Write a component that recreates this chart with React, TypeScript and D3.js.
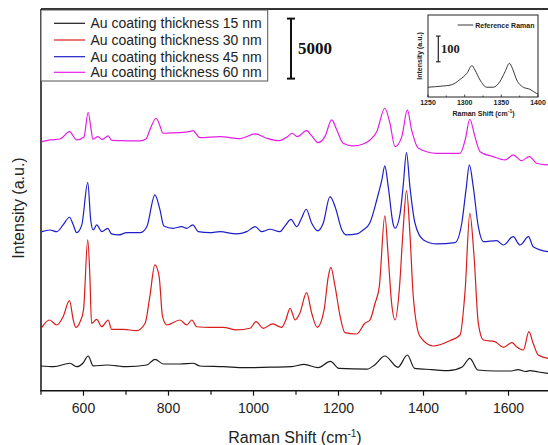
import React from "react";
import * as d3 from "d3";

// ---------- data ----------
const xMajorTicks = [600, 800, 1000, 1200, 1400, 1600];
const xMinorTicks = [700, 900, 1100, 1300, 1500];

const seriesLabels = [
  "Au coating thickness 15 nm",
  "Au coating thickness 30 nm",
  "Au coating thickness 45 nm",
  "Au coating thickness 60 nm",
];
const seriesColors = ["#1a1a1a", "#d91c1c", "#1e1ec8", "#e41fe4"];

// [Raman shift (cm-1), intensity (counts, stacked offsets included)]
const spectrum15nm: [number, number][] = [
  [500, 2060], [530, 2000], [568, 2285], [584, 2000], [599, 2310], [611, 2890], [623, 2060],
  [655, 2140], [702, 2000], [749, 2140], [768, 2615], [788, 2225], [827, 2225], [858, 2285],
  [874, 2060], [930, 2000], [979, 1915], [1040, 1960], [1090, 2000], [1119, 2200], [1152, 1915],
  [1181, 2435], [1201, 1860], [1267, 1800], [1285, 2140], [1309, 2890], [1340, 1950],
  [1362, 2975], [1379, 1865], [1420, 1760], [1458, 1665], [1491, 1975], [1509, 2700],
  [1528, 1725], [1570, 1640], [1607, 1640], [1622, 1760], [1640, 1600], [1650, 1665],
  [1670, 1560], [1693, 1450],
];

const spectrum30nm: [number, number][] = [
  [502, 5280], [520, 5890], [537, 5475], [552, 6165], [567, 7500], [576, 5890], [582, 5280],
  [592, 5750], [600, 6725], [610, 12560], [615, 9500], [619, 5615], [631, 5950], [643, 5330],
  [658, 5890], [666, 5115], [694, 5115], [725, 5000], [745, 5615], [756, 7830], [768, 10475],
  [778, 9500], [786, 6165], [796, 5475], [827, 5890], [843, 5475], [855, 5890], [866, 5330],
  [898, 5280], [929, 5280], [960, 5060], [992, 5200], [1006, 5750], [1023, 5200], [1045, 5560],
  [1066, 5280], [1076, 5890], [1086, 6865], [1098, 5890], [1109, 6450], [1125, 8165],
  [1137, 6450], [1150, 5280], [1166, 6725], [1176, 9500], [1182, 10280], [1192, 8665],
  [1204, 6165], [1215, 4835], [1243, 4725], [1262, 5615], [1274, 5890], [1286, 7285],
  [1296, 8665], [1309, 14560], [1317, 11165], [1325, 7285], [1333, 5890], [1343, 8390],
  [1352, 13390], [1360, 16665], [1368, 13115], [1376, 7830], [1392, 4500], [1423, 3725],
  [1462, 4165], [1486, 4640], [1498, 8390], [1509, 14780], [1519, 11165], [1529, 5615],
  [1541, 4225], [1568, 4085], [1588, 3615], [1608, 4000], [1619, 3665], [1635, 3390],
  [1648, 4915], [1658, 3950], [1670, 2975], [1693, 2700],
];

const spectrum45nm: [number, number][] = [
  [502, 13250], [521, 13390], [537, 13250], [552, 13810], [567, 14450], [576, 13810],
  [584, 13165], [596, 13810], [610, 17330], [617, 14225], [623, 13390], [631, 13810],
  [643, 13250], [657, 13530], [666, 13060], [682, 12975], [702, 13165], [733, 13165],
  [749, 13665], [768, 16310], [780, 15060], [789, 13725], [811, 13530], [831, 13665],
  [843, 13530], [857, 13810], [870, 13250], [898, 13165], [921, 13250], [960, 13060],
  [984, 13250], [1004, 13665], [1019, 13250], [1039, 13450], [1062, 13250], [1076, 13810],
  [1088, 14280], [1102, 13665], [1113, 14365], [1124, 15115], [1137, 13950], [1151, 13310],
  [1164, 13950], [1180, 16165], [1192, 15330], [1208, 13390], [1219, 12975], [1243, 13060],
  [1258, 13390], [1274, 14000], [1290, 15890], [1302, 17560], [1309, 18725], [1317, 17000],
  [1329, 13810], [1333, 13530], [1345, 14780], [1352, 17000], [1360, 19830], [1368, 17000],
  [1380, 13950], [1400, 12560], [1431, 12225], [1474, 12330], [1490, 13950], [1500, 16725],
  [1508, 18810], [1517, 17000], [1529, 13665], [1541, 12415], [1572, 12500], [1588, 12140],
  [1611, 12830], [1627, 12140], [1647, 12830], [1658, 12000], [1693, 11580],
];

const spectrum60nm: [number, number][] = [
  [502, 20750], [521, 20890], [545, 20970], [567, 21580], [584, 20890], [601, 21140],
  [611, 23200], [618, 21725], [622, 20950], [634, 21165], [644, 20930], [658, 21225],
  [667, 20850], [686, 20830], [733, 20810], [747, 20970], [756, 21725], [771, 22700],
  [780, 22060], [787, 21450], [804, 21475], [827, 21500], [851, 21600], [858, 21665],
  [865, 21390], [874, 21080], [921, 21165], [968, 21000], [1004, 21390], [1031, 21030],
  [1058, 20830], [1080, 21165], [1091, 21450], [1103, 21165], [1125, 21665], [1137, 21225],
  [1152, 20665], [1168, 21165], [1184, 22560], [1196, 21725], [1211, 20615], [1235, 20390],
  [1258, 20555], [1274, 20890], [1290, 21580], [1309, 23530], [1321, 22280], [1333, 20330],
  [1349, 21165], [1362, 23390], [1372, 21725], [1388, 20200], [1431, 19780], [1486, 19780],
  [1498, 20890], [1509, 22615], [1521, 21165], [1533, 19915], [1564, 19500], [1592, 19225],
  [1611, 19640], [1631, 19165], [1649, 19500], [1666, 18950], [1693, 18810],
];

const spectra = [spectrum15nm, spectrum30nm, spectrum45nm, spectrum60nm];

const scaleBarValue = 5000;
const scaleBarBase = 26000;

// inset (reference Raman)
const insetTicks = [1250, 1300, 1350, 1400];
const insetMinorTicks = [1275, 1325, 1375];
const referenceRaman: [number, number][] = [
  [1250, 638], [1260, 640], [1271, 643], [1280, 646], [1285, 651], [1290, 660], [1294, 669],
  [1303, 692], [1310, 722], [1314, 705], [1321, 666], [1330, 638], [1339, 638], [1348, 660],
  [1355, 698], [1361, 731], [1365, 712], [1371, 666], [1380, 638], [1389, 630], [1398, 614],
  [1400, 612],
];
const insetBarValue = 100;
const insetBarBase = 737;

// ---------- layout ----------
const W = 548;
const H = 445;
const left = 41;
const right = 548;
const top = 9;
const bottom = 390.7;

const FONT = "'Liberation Sans', Arial, sans-serif";
const SERIF = "'Liberation Serif', 'Times New Roman', serif";

export default function App() {
  const x = d3.scaleLinear().domain([500, 1700]).range([left, left + 1200 * 0.425]);
  const y = d3.scaleLinear().domain([0, 31800]).range([bottom, top]);
  const line = d3
    .line<[number, number]>()
    .x((d) => x(d[0]))
    .y((d) => y(d[1]))
    .curve(d3.curveMonotoneX);

  // inset scales
  const ix = d3.scaleLinear().domain([1250, 1400]).range([428, 538]);
  const iy = d3.scaleLinear().domain([600, 919]).range([97, 15]);
  const iline = d3
    .line<[number, number]>()
    .x((d) => ix(d[0]))
    .y((d) => iy(d[1]))
    .curve(d3.curveMonotoneX);

  const legendY = [23.3, 40, 56.7, 72.3];

  return (
    <svg
      width={W}
      height={H}
      viewBox={`0 0 ${W} ${H}`}
      style={{ position: "absolute", left: 0, top: 0, display: "block", background: "#fff" }}
    >
      <defs>
        <clipPath id="plotClip">
          <rect x={left} y={top} width={right - left} height={bottom - top} />
        </clipPath>
      </defs>
      <rect x={0} y={0} width={W} height={H} fill="#fff" />

      {/* spectra */}
      <g clipPath="url(#plotClip)">
        {spectra.map((s, i) => (
          <path key={i} d={line(s) || ""} fill="none" stroke={seriesColors[i]} strokeWidth={1.2} strokeLinejoin="round" />
        ))}
      </g>

      {/* frame */}
      <line x1={left} y1={top} x2={right} y2={top} stroke="#333" strokeWidth={2} />
      <line x1={left} y1={top} x2={left} y2={bottom} stroke="#111" strokeWidth={1.5} />
      <line x1={left - 0.75} y1={bottom} x2={right} y2={bottom} stroke="#111" strokeWidth={1.5} />

      {/* x ticks */}
      {xMajorTicks.map((t) => (
        <g key={t}>
          <line x1={x(t)} x2={x(t)} y1={bottom} y2={bottom + 5} stroke="#111" strokeWidth={1.2} />
          <text x={x(t)} y={413.3} textAnchor="middle" fontFamily={FONT} fontSize={14} fill="#222">
            {t}
          </text>
        </g>
      ))}
      {[500, ...xMinorTicks].map((t) => (
        <line key={"m" + t} x1={x(t)} x2={x(t)} y1={bottom} y2={bottom + 4} stroke="#111" strokeWidth={1.2} />
      ))}

      {/* axis titles */}
      <text x={295} y={442.5} textAnchor="middle" fontFamily={FONT} fontSize={16} fill="#222">
        <tspan>Raman Shift (cm</tspan>
        <tspan dy={-6} fontSize={10}>-1</tspan>
        <tspan dy={6}>)</tspan>
      </text>
      <text
        transform="translate(23.5,208) rotate(-90)"
        textAnchor="middle"
        fontFamily={FONT}
        fontSize={16}
        fill="#222"
      >
        Intensity (a.u.)
      </text>

      {/* legend */}
      <rect x={41} y={10} width={226.7} height={71} fill="#fff" stroke="#555" strokeWidth={1} />
      {seriesLabels.map((lab, i) => (
        <g key={lab}>
          <line x1={54} x2={85} y1={legendY[i]} y2={legendY[i]} stroke={seriesColors[i]} strokeWidth={1.2} />
          <text x={90.5} y={legendY[i] + 5} fontFamily={FONT} fontSize={14} fill="#222">
            {lab}
          </text>
        </g>
      ))}

      {/* scale bar */}
      <g stroke="#111" strokeWidth={2}>
        <line x1={291} x2={291} y1={y(scaleBarBase)} y2={y(scaleBarBase + scaleBarValue)} />
        <line x1={287} x2={295} y1={y(scaleBarBase)} y2={y(scaleBarBase)} />
        <line x1={287} x2={295} y1={y(scaleBarBase + scaleBarValue)} y2={y(scaleBarBase + scaleBarValue)} />
      </g>
      <text x={298} y={54} fontFamily={SERIF} fontWeight="bold" fontSize={17} fill="#111">
        {scaleBarValue}
      </text>

      {/* inset */}
      <g>
        <rect x={428} y={15} width={110} height={82} fill="#fff" stroke="#222" strokeWidth={1} />
        <path d={iline(referenceRaman) || ""} fill="none" stroke="#222" strokeWidth={0.9} />
        {insetTicks.map((t) => (
          <g key={"it" + t}>
            <line x1={ix(t)} x2={ix(t)} y1={97} y2={94.5} stroke="#222" strokeWidth={0.8} />
            <text x={ix(t)} y={104.5} textAnchor="middle" fontFamily={FONT} fontWeight="bold" fontSize={7} fill="#222">
              {t}
            </text>
          </g>
        ))}
        {insetMinorTicks.map((t) => (
          <line key={"im" + t} x1={ix(t)} x2={ix(t)} y1={97} y2={95.5} stroke="#222" strokeWidth={0.8} />
        ))}
        <text x={483.5} y={115.5} textAnchor="middle" fontFamily={FONT} fontWeight="bold" fontSize={7} fill="#222">
          <tspan>Raman Shift (cm</tspan>
          <tspan dy={-3} fontSize={5}>-1</tspan>
          <tspan dy={3}>)</tspan>
        </text>
        <text
          transform="translate(421.5,56) rotate(-90)"
          textAnchor="middle"
          fontFamily={FONT}
          fontWeight="bold"
          fontSize={7}
          fill="#222"
        >
          Intensity (a.u.)
        </text>
        <line x1={457.7} x2={473.3} y1={25} y2={25} stroke="#222" strokeWidth={0.9} />
        <text x={475.3} y={27.5} fontFamily={FONT} fontWeight="bold" fontSize={7} fill="#222">
          Reference Raman
        </text>
        <g stroke="#222" strokeWidth={1.2}>
          <line x1={438.3} x2={438.3} y1={iy(insetBarBase)} y2={iy(insetBarBase + insetBarValue)} />
          <line x1={436} x2={440.6} y1={iy(insetBarBase)} y2={iy(insetBarBase)} />
          <line x1={436} x2={440.6} y1={iy(insetBarBase + insetBarValue)} y2={iy(insetBarBase + insetBarValue)} />
        </g>
        <text x={441} y={53} fontFamily={SERIF} fontWeight="bold" fontSize={12.5} fill="#222">
          {insetBarValue}
        </text>
      </g>
    </svg>
  );
}
